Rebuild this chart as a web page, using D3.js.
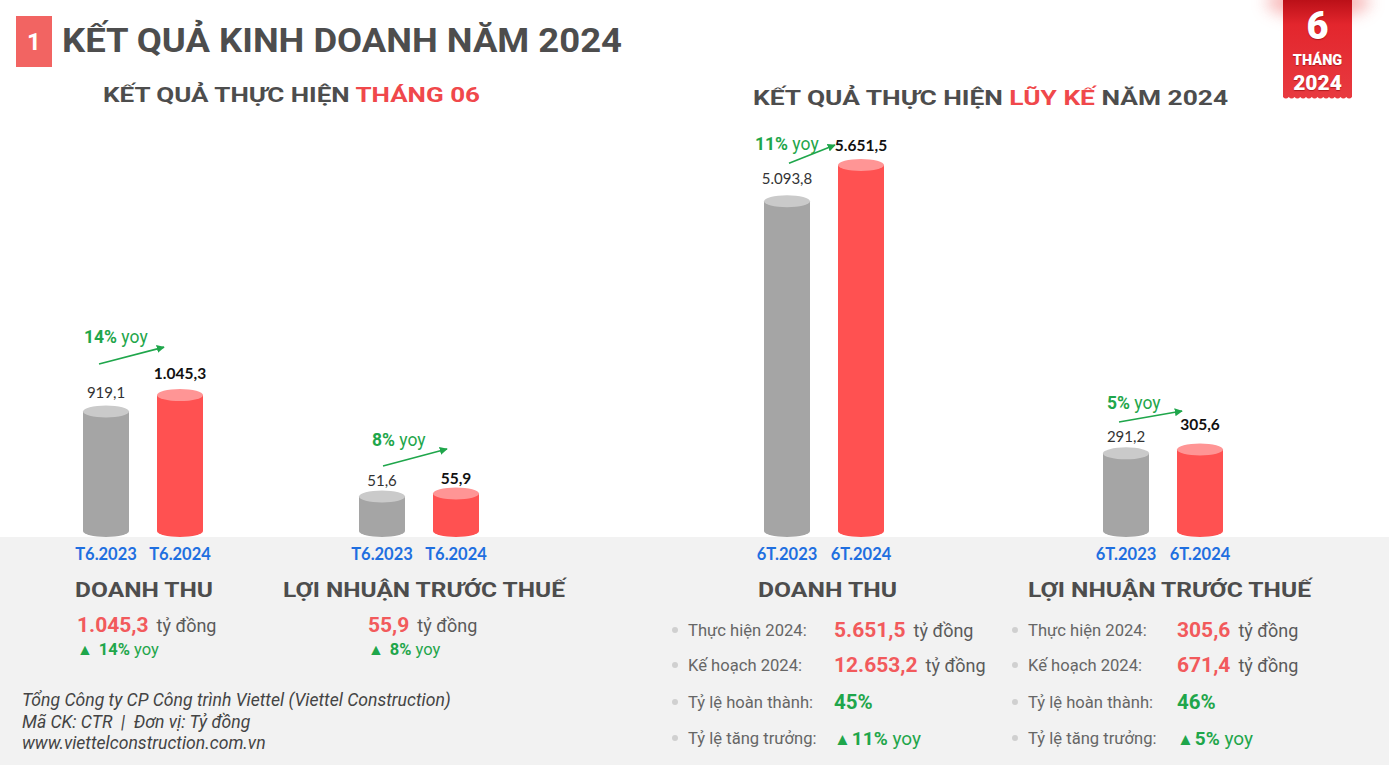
<!DOCTYPE html>
<html><head><meta charset="utf-8">
<script src="https://cdn.jsdelivr.net/npm/d3@7"></script>
<style>
html,body{margin:0;padding:0;background:#fff;}
svg{display:block;}
</style></head>
<body><svg id="chart" width="1389" height="765"></svg>
<script>
// ---------- DATA ----------
const categoriesMonth = ["T6.2023", "T6.2024"];
const categoriesYTD = ["6T.2023", "6T.2024"];
const revenueMonth = [919.1, 1045.3];
const profitMonth = [51.6, 55.9];
const revenueYTD = [5093.8, 5651.5];
const profitYTD = [291.2, 305.6];
const yoyMonth = [14, 8];          // revenue, profit
const yoyYTD = [11, 5];            // revenue, profit
const planYTD = [12653.2, 671.4];  // revenue, profit
const completionYTD = [45, 46];    // %
const metricNames = ["DOANH THU", "LỢI NHUẬN TRƯỚC THUẾ"];
const rowLabels = ["Thực hiện 2024:", "Kế hoạch 2024:", "Tỷ lệ hoàn thành:", "Tỷ lệ tăng trưởng:"];
const footerLines = [
  "Tổng Công ty CP Công trình Viettel (Viettel Construction)",
  "Mã CK: CTR  |  Đơn vị: Tỷ đồng",
  "www.viettelconstruction.com.vn"
];

// ---------- STYLE ----------
const HEAD = "Roboto, 'Open Sans', sans-serif";
const BODY = "Lato, 'Open Sans', sans-serif";
const C = {
  title: "#4d4d4d", red: "#f0484b", redText: "#f25a5c", green: "#1fa64b",
  blue: "#1f6fe0", grayBody: "#a5a5a5", grayTop: "#cacaca",
  redBody: "#ff5151", redTop: "#ff9595", panel: "#f2f2f2", text: "#5a5a5a"
};
const vn = d3.formatLocale({decimal: ",", thousands: ".", grouping: [3], currency: ["", ""]});
const fmt = vn.format(",.1f");

const svg = d3.select("#chart");
const defs = svg.append("defs");

// gray lower panel
svg.append("rect").attr("x", 0).attr("y", 537).attr("width", 1389).attr("height", 228).attr("fill", C.panel);

// ---------- HEADER ----------
svg.append("rect").attr("x", 16).attr("y", 16).attr("width", 36).attr("height", 51).attr("fill", "#f26462");
svg.append("text").attr("x", 34).attr("y", 50).attr("text-anchor", "middle")
  .attr("font-family", HEAD).attr("font-weight", 700).attr("font-size", 24).attr("fill", "#fff").text("1");
svg.append("text").attr("x", 62).attr("y", 52)
  .attr("font-family", HEAD).attr("font-weight", 700).attr("font-size", 33).attr("fill", C.title)
  .attr("textLength", 560).attr("lengthAdjust", "spacingAndGlyphs")
  .text("KẾT QUẢ KINH DOANH NĂM 2024");

function subTitle(x, y, w, parts) {
  const t = svg.append("text").attr("x", x).attr("y", y)
    .attr("font-family", HEAD).attr("font-weight", 700).attr("font-size", 21)
    .attr("textLength", w).attr("lengthAdjust", "spacingAndGlyphs");
  parts.forEach(p => t.append("tspan").attr("fill", p[1]).text(p[0]));
}
subTitle(103, 102, 377, [["KẾT QUẢ THỰC HIỆN ", C.title], ["THÁNG 06", C.red]]);
subTitle(753, 105, 475, [["KẾT QUẢ THỰC HIỆN ", C.title], ["LŨY KẾ", C.red], [" NĂM 2024", C.title]]);

// ---------- BADGE ----------
const glow = defs.append("filter").attr("id", "glow").attr("x", "-50%").attr("y", "-50%").attr("width", "200%").attr("height", "200%");
glow.append("feGaussianBlur").attr("stdDeviation", 8);
svg.append("ellipse").attr("cx", 1318).attr("cy", 2).attr("rx", 52).attr("ry", 16)
  .attr("fill", "#f59a9a").attr("opacity", 0.7).attr("filter", "url(#glow)");
const rg = defs.append("linearGradient").attr("id", "ribbon").attr("x1", 0).attr("y1", 0).attr("x2", 0).attr("y2", 1);
rg.append("stop").attr("offset", "0").attr("stop-color", "#bb1018");
rg.append("stop").attr("offset", "0.25").attr("stop-color", "#e3262d");
rg.append("stop").attr("offset", "1").attr("stop-color", "#e83a40");
const rx0 = 1283, rx1 = 1352, ryB = 97, nB = 12, bw = (rx1 - rx0) / nB;
let rp = `M${rx0},0 L${rx1},0 L${rx1},${ryB}`;
for (let i = 0; i < nB; i++) rp += ` q${-bw / 2},${3.2} ${-bw},0`;
rp += " Z";
svg.append("path").attr("d", rp).attr("fill", "url(#ribbon)");
const bt = [["6", 39, 38], ["THÁNG", 65, 14.5], ["2024", 90, 21]];
bt.forEach(b => svg.append("text").attr("x", 1317.5).attr("y", b[1]).attr("text-anchor", "middle")
  .attr("font-family", HEAD).attr("font-weight", 900).attr("font-size", b[2]).attr("fill", "#fff")
  .style("text-shadow", "0 1px 1px rgba(120,0,0,0.5)").text(b[0]));

// ---------- BAR PANELS ----------
const BASE = 531, BW = 46, RY = 6;
const panels = [
  {cats: categoriesMonth, vals: revenueMonth, yoy: yoyMonth[0], center: 143, dmax: 1200, H: 156,
   lab: [-14, -16.6], arrow: [-7, -47.5, -16, -48], yt: [-22, -68.5]},
  {cats: categoriesMonth, vals: profitMonth, yoy: yoyMonth[1], center: 419, dmax: 60, H: 40.2,
   lab: [-10, -10], arrow: [1, -30.4, -9, -44.5], yt: [-10, -50]},
  {cats: categoriesYTD, vals: revenueYTD, yoy: yoyYTD[0], center: 824, dmax: 6000, H: 388.5,
   lab: [-17, -14.5], arrow: [2, -38, -26, -20], yt: [-32, -50.7]},
  {cats: categoriesYTD, vals: profitYTD, yoy: yoyYTD[1], center: 1163, dmax: 350, H: 93.3,
   lab: [-11, -20], arrow: [-7, -31.4, -18, -38.5], yt: [-19, -44]}
];

const mk = defs.append("marker").attr("id", "arr").attr("viewBox", "0 0 10 10").attr("refX", 9).attr("refY", 5)
  .attr("markerWidth", 5).attr("markerHeight", 5).attr("orient", "auto").attr("markerUnits", "strokeWidth");
mk.append("path").attr("d", "M0,0 L10,5 L0,10 Z").attr("fill", C.green);

panels.forEach((p, pi) => {
  const x = d3.scalePoint().domain(p.cats).range([p.center - 37, p.center + 37]);
  const y = d3.scaleLinear().domain([0, p.dmax]).range([BASE, BASE - p.H]);
  const g = svg.append("g");
  const bars = g.selectAll("g.bar").data(p.vals.map((v, i) => ({v, i, c: p.cats[i]}))).join("g").attr("class", "bar");
  bars.append("ellipse").attr("cx", d => x(d.c)).attr("cy", BASE).attr("rx", BW / 2).attr("ry", RY)
    .attr("fill", d => d.i ? C.redBody : C.grayBody);
  bars.append("rect").attr("x", d => x(d.c) - BW / 2).attr("y", d => y(d.v)).attr("width", BW)
    .attr("height", d => BASE - y(d.v)).attr("fill", d => d.i ? C.redBody : C.grayBody);
  bars.append("ellipse").attr("cx", d => x(d.c)).attr("cy", d => y(d.v)).attr("rx", BW / 2).attr("ry", RY)
    .attr("fill", d => d.i ? C.redTop : C.grayTop);
  // value labels
  bars.append("text").attr("x", d => x(d.c)).attr("y", d => y(d.v) + p.lab[d.i])
    .attr("text-anchor", "middle").attr("font-family", BODY)
    .attr("font-weight", d => d.i ? 700 : 400).attr("font-size", d => d.i ? 15.5 : 15)
    .attr("fill", d => d.i ? "#111" : "#333").text(d => fmt(d.v));
  // category labels
  bars.append("text").attr("x", d => x(d.c)).attr("y", 560).attr("text-anchor", "middle")
    .attr("font-family", BODY).attr("font-weight", 700).attr("font-size", 16.5).attr("fill", C.blue).text(d => d.c);
  // yoy arrow
  const x0 = x(p.cats[0]), x1 = x(p.cats[1]), y0 = y(p.vals[0]), y1 = y(p.vals[1]);
  g.append("line").attr("x1", x0 + p.arrow[0]).attr("y1", y0 + p.arrow[1])
    .attr("x2", x1 + p.arrow[2]).attr("y2", y1 + p.arrow[3])
    .attr("stroke", C.green).attr("stroke-width", 1.6).attr("marker-end", "url(#arr)");
  const t = g.append("text").attr("x", x0 + p.yt[0]).attr("y", y0 + p.yt[1])
    .attr("font-family", HEAD).attr("font-size", 17.5).attr("fill", C.green);
  t.append("tspan").attr("font-weight", 700).text(p.yoy + "%");
  t.append("tspan").text(" yoy");
});

// ---------- LOWER TEXT ----------
const headPos = [[75, 138], [283, 282], [758, 139], [1028, 283]];
headPos.forEach((h, i) => svg.append("text").attr("x", h[0]).attr("y", 597)
  .attr("font-family", HEAD).attr("font-weight", 700).attr("font-size", 21).attr("fill", C.title)
  .attr("textLength", h[1]).attr("lengthAdjust", "spacingAndGlyphs").text(metricNames[i % 2]));

// monthly summaries
const monthVals = [revenueMonth[1], profitMonth[1]];
[[77], [368]].forEach((pos, i) => {
  const t = svg.append("text").attr("x", pos[0]).attr("y", 632).attr("font-family", HEAD);
  t.append("tspan").attr("font-weight", 700).attr("font-size", 21).attr("fill", C.redText).text(fmt(monthVals[i]));
  t.append("tspan").attr("dx", 8).attr("font-size", 18).attr("fill", C.text).text("tỷ đồng");
  const s = svg.append("text").attr("x", pos[0]).attr("y", 655).attr("font-family", HEAD).attr("fill", C.green);
  s.append("tspan").attr("font-size", 16).text("▲");
  s.append("tspan").attr("dx", 6).attr("font-size", 16.5).attr("font-weight", 700).text(yoyMonth[i] + "%");
  s.append("tspan").attr("font-size", 16.5).text(" yoy");
});

// YTD rows
const ytdActual = [revenueYTD[1], profitYTD[1]];
const rowY = [636, 671, 708, 744];
[[675, 688, 834], [1015, 1028, 1177]].forEach((col, i) => {
  rowY.forEach((ry, r) => {
    svg.append("circle").attr("cx", col[0]).attr("cy", ry - 6).attr("r", 3).attr("fill", "#d0d0d0");
    svg.append("text").attr("x", col[1]).attr("y", ry).attr("font-family", HEAD).attr("font-size", 16.6)
      .attr("fill", "#666").text(rowLabels[r]);
    const t = svg.append("text").attr("x", col[2]).attr("y", ry + 1).attr("font-family", HEAD);
    if (r < 2) {
      const v = r === 0 ? ytdActual[i] : planYTD[i];
      t.append("tspan").attr("font-weight", 700).attr("font-size", 21).attr("fill", C.redText).text(fmt(v));
      t.append("tspan").attr("dx", 8).attr("font-size", 18).attr("fill", C.text).text("tỷ đồng");
    } else if (r === 2) {
      t.append("tspan").attr("font-weight", 700).attr("font-size", 20.5).attr("fill", C.green).text(completionYTD[i] + "%");
    } else {
      t.attr("fill", C.green);
      t.append("tspan").attr("font-size", 17).text("▲");
      t.append("tspan").attr("dx", 1).attr("font-size", 19).attr("font-weight", 700).text(yoyYTD[i] + "%");
      t.append("tspan").attr("font-size", 19).text(" yoy");
    }
  });
});

// footer
footerLines.forEach((l, i) => svg.append("text").attr("x", 22).attr("y", 706 + i * 21.5)
  .attr("font-family", HEAD).attr("font-style", "italic").attr("font-size", 17.6).attr("fill", "#444")
  .style("white-space", "pre").text(l));
</script></body></html>
